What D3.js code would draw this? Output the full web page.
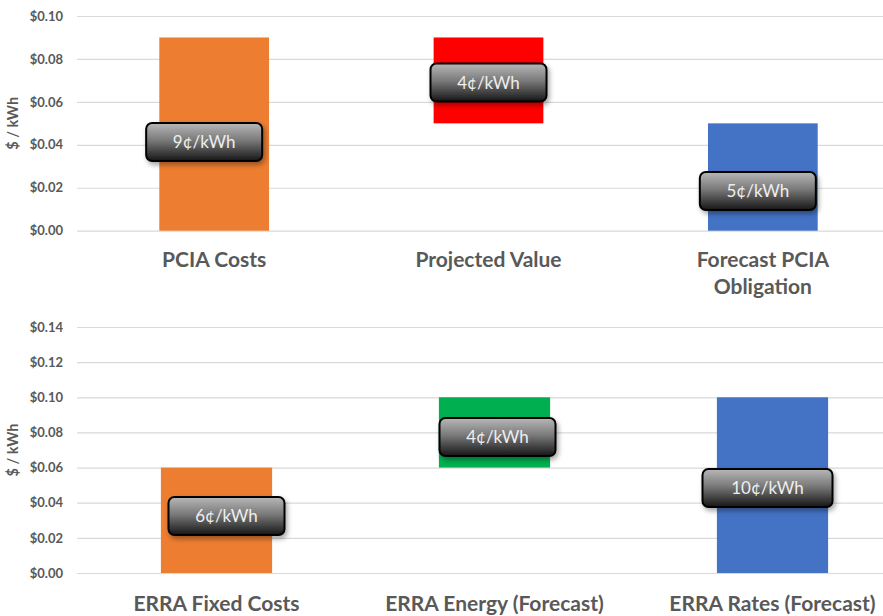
<!DOCTYPE html>
<html>
<head>
<meta charset="utf-8">
<script src="https://cdn.jsdelivr.net/npm/d3@7"></script>
<style>
  body { margin: 0; background: #fff; }
  svg { display: block; }
</style>
</head>
<body>
<div id="chart"></div>
<script>
// --- dati pannello superiore (PCIA) ---
const topCategories = [["PCIA Costs"], ["Projected Value"], ["Forecast PCIA", "Obligation"]];
const topBase = [0, 0.05, 0];
const topEnd = [0.09, 0.09, 0.05];
const topColors = ["#ED7D31", "#FF0000", "#4472C4"];
const topLabels = ["9¢/kWh", "4¢/kWh", "5¢/kWh"];
const topLabelAt = [0.0413, 0.069, 0.0185];
const topTicks = [0, 0.02, 0.04, 0.06, 0.08, 0.10];

// --- dati pannello inferiore (ERRA) ---
const bottomCategories = [["ERRA Fixed Costs"], ["ERRA Energy (Forecast)"], ["ERRA Rates (Forecast)"]];
const bottomBase = [0, 0.06, 0];
const bottomEnd = [0.06, 0.10, 0.10];
const bottomColors = ["#ED7D31", "#00B050", "#4472C4"];
const bottomLabels = ["6¢/kWh", "4¢/kWh", "10¢/kWh"];
const bottomLabelAt = [0.0324, 0.0774, 0.0484];
const bottomTicks = [0, 0.02, 0.04, 0.06, 0.08, 0.10, 0.12, 0.14];

const width = 883, height = 616;
const svg = d3.select("#chart").append("svg")
  .attr("width", width)
  .attr("height", height);

// gradient + ombra per le etichette
const defs = svg.append("defs");
const grad = defs.append("linearGradient")
  .attr("id", "boxGrad").attr("x1", 0).attr("y1", 0).attr("x2", 0).attr("y2", 1);
grad.append("stop").attr("offset", "0%").attr("stop-color", "#b8b8b8");
grad.append("stop").attr("offset", "45%").attr("stop-color", "#7a7a7a");
grad.append("stop").attr("offset", "100%").attr("stop-color", "#151515");
const shadow = defs.append("filter").attr("id", "shadow")
  .attr("x", "-20%").attr("y", "-30%").attr("width", "150%").attr("height", "180%");
shadow.append("feDropShadow")
  .attr("dx", 2).attr("dy", 3).attr("stdDeviation", 2.5)
  .attr("flood-color", "#000").attr("flood-opacity", 0.35);

const fontFamily = "Lato, 'Open Sans', sans-serif";

drawPanel({
  cats: topCategories, base: topBase, end: topEnd, colors: topColors,
  labels: topLabels, labelAt: topLabelAt, labelDx: [-10, 0, -5],
  ticks: topTicks, yTop: 16, yBottom: 230.7, catY: 267,
  left: 77, right: 900
});

drawPanel({
  cats: bottomCategories, base: bottomBase, end: bottomEnd, colors: bottomColors,
  labels: bottomLabels, labelAt: bottomLabelAt, labelDx: [10, 3, -5],
  ticks: bottomTicks, yTop: 327, yBottom: 573, catY: 611,
  left: 77.5, right: 911.5
});

function drawPanel(p) {
  const idx = d3.range(p.cats.length);

  const xScale = d3.scaleBand()
    .domain(idx)
    .range([p.left, p.right])
    .paddingInner(0.6)
    .paddingOuter(0.3);

  const yScale = d3.scaleLinear()
    .domain([0, d3.max(p.ticks)])
    .range([p.yBottom, p.yTop]);

  // griglia + etichette asse y
  const yAxis = svg.append("g")
    .attr("transform", `translate(77,0)`)
    .call(d3.axisLeft(yScale)
      .tickValues(p.ticks)
      .tickFormat(d3.format("$.2f"))
      .tickSize(-(width - 77))
      .tickPadding(14));
  yAxis.select(".domain").remove();
  yAxis.selectAll("line").attr("stroke", "#d9d9d9").attr("stroke-width", 1.2);
  yAxis.selectAll("text")
    .attr("fill", "#595959")
    .style("font-family", fontFamily)
    .style("font-weight", "bold")
    .style("font-size", "13px");

  // titolo asse
  svg.append("text")
    .attr("transform", `translate(18,${(p.yTop + p.yBottom) / 2}) rotate(-90)`)
    .attr("text-anchor", "middle")
    .attr("fill", "#595959")
    .style("font-family", fontFamily)
    .style("font-weight", "bold")
    .style("font-size", "14.5px")
    .text("$ / kWh");

  // barre fluttuanti
  svg.append("g").selectAll("rect")
    .data(idx)
    .join("rect")
    .attr("x", (i) => xScale(i))
    .attr("width", xScale.bandwidth())
    .attr("y", (i) => yScale(p.end[i]))
    .attr("height", (i) => yScale(p.base[i]) - yScale(p.end[i]))
    .attr("fill", (i) => p.colors[i]);

  // etichette categorie
  svg.append("g").selectAll("text")
    .data(idx)
    .join("text")
    .attr("x", (i) => xScale(i) + xScale.bandwidth() / 2)
    .attr("y", p.catY)
    .attr("text-anchor", "middle")
    .attr("fill", "#595959")
    .style("font-family", fontFamily)
    .style("font-weight", "bold")
    .style("font-size", "21px")
    .each(function (i) {
      d3.select(this).selectAll("tspan")
        .data(p.cats[i])
        .join("tspan")
        .attr("x", xScale(i) + xScale.bandwidth() / 2)
        .attr("dy", (d, k) => (k === 0 ? 0 : 27))
        .text((d) => d);
    });

  // callout
  const boxes = svg.append("g").selectAll("g")
    .data(idx)
    .join("g")
    .attr("transform", (i) =>
      `translate(${xScale(i) + xScale.bandwidth() / 2 + p.labelDx[i]},${yScale(p.labelAt[i])})`);

  boxes.append("rect")
    .attr("x", (i) => (p.labels[i].length > 6 ? -65 : -58))
    .attr("y", -19)
    .attr("width", (i) => (p.labels[i].length > 6 ? 130 : 116))
    .attr("height", 38)
    .attr("rx", 6)
    .attr("fill", "url(#boxGrad)")
    .attr("stroke", "#000")
    .attr("stroke-width", 2)
    .attr("filter", "url(#shadow)");

  boxes.append("text")
    .attr("text-anchor", "middle")
    .attr("dy", "0.35em")
    .attr("fill", "#eeeeee")
    .style("font-family", fontFamily)
    .style("font-size", "17px")
    .text((i) => p.labels[i]);
}
</script>
</body>
</html>
